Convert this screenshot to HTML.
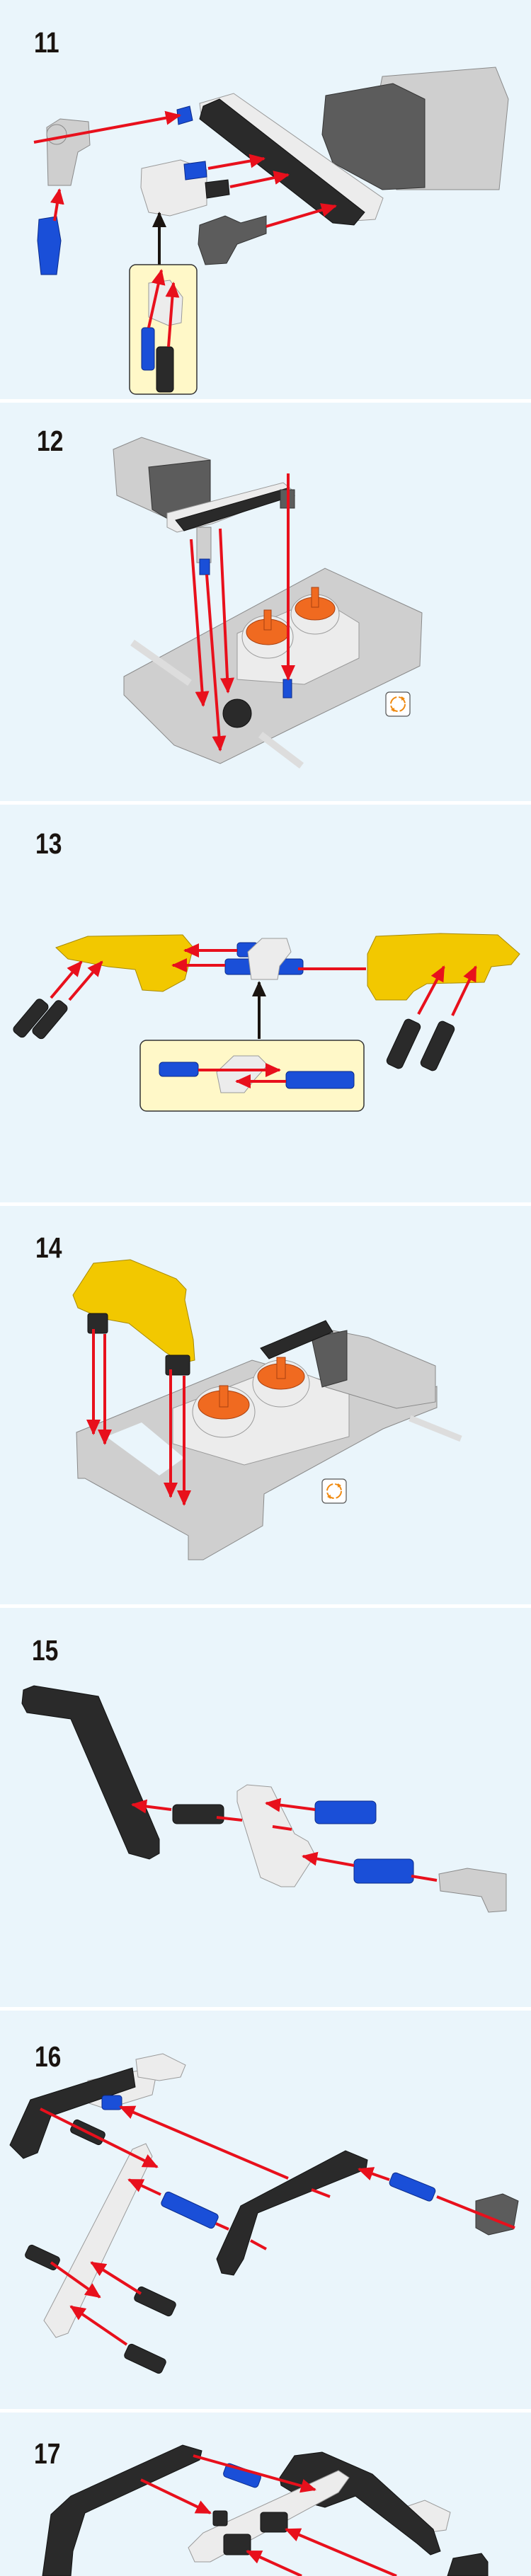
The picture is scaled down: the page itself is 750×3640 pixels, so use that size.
<!DOCTYPE html>
<html><head><meta charset="utf-8"><style>
html,body{margin:0;padding:0;background:#fff}
svg{display:block}
.n{font-family:"Liberation Sans",sans-serif;font-weight:bold;font-size:41px;fill:#1a1410}
.r{stroke:#e8101c;stroke-width:4;fill:none}
.ra{stroke:#e8101c;stroke-width:4;fill:none;marker-end:url(#ah)}
.ka{stroke:#1a1410;stroke-width:4;fill:none;marker-end:url(#kh)}
.blk{fill:#2a2a2a;stroke:#111;stroke-width:1}
.wht{fill:#ececec;stroke:#9a9a9a;stroke-width:1}
.gry{fill:#cfcfcf;stroke:#8a8a8a;stroke-width:1}
.dgr{fill:#5c5c5c;stroke:#333;stroke-width:1}
.blu{fill:#1a4fd8;stroke:#0a2a8a;stroke-width:1}
.yel{fill:#f2c800;stroke:#a88a00;stroke-width:1}
.org{fill:#f06a20;stroke:#a84010;stroke-width:1}
.box{fill:#fff8c8;stroke:#333;stroke-width:1.5}
</style></head><body>
<svg width="750" height="3640" viewBox="0 0 750 3640" xmlns="http://www.w3.org/2000/svg">
<defs>
<marker id="ah" markerUnits="userSpaceOnUse" markerWidth="22" markerHeight="20" refX="20" refY="10" orient="auto"><path d="M0,0 L22,10 L0,20 z" fill="#e8101c"/></marker>
<marker id="kh" markerUnits="userSpaceOnUse" markerWidth="22" markerHeight="20" refX="20" refY="10" orient="auto"><path d="M0,0 L22,10 L0,20 z" fill="#1a1410"/></marker>
<g id="icon"><rect x="0" y="0" width="34" height="34" rx="5" fill="#fff" stroke="#555" stroke-width="1.2"/><circle cx="17" cy="17" r="10" fill="none" stroke="#f08a10" stroke-width="2" stroke-dasharray="13 3"/><path d="M22,6 l5,3 -5,3z M12,28 l-5,-3 5,-3z" fill="#f08a10"/></g>
</defs>
<rect width="750" height="3640" fill="#eaf5fb"/>
<rect y="564" width="750" height="5" fill="#fff"/>
<rect y="1132" width="750" height="5" fill="#fff"/>
<rect y="1699" width="750" height="5" fill="#fff"/>
<rect y="2267" width="750" height="5" fill="#fff"/>
<rect y="2836" width="750" height="5" fill="#fff"/>
<rect y="3404" width="750" height="5" fill="#fff"/>

<!-- PANEL 11 -->
<text class="n" x="48" y="74" transform="translate(48 0) scale(0.82 1) translate(-48 0)">11</text>
<polygon class="gry" points="540,108 700,95 718,140 705,268 560,268 520,210"/>
<polygon class="dgr" points="460,135 555,118 600,140 600,265 540,268 470,230 455,190"/>
<polygon class="wht" points="282,146 330,132 541,280 530,310 500,312 285,170"/>
<polygon class="blk" points="287,150 310,140 515,300 500,318 470,315 282,168"/>
<polygon class="gry" points="66,180 85,168 125,172 127,205 110,215 100,262 68,262"/>
<circle cx="80" cy="190" r="14" class="gry"/>
<polygon class="blu" points="55,310 80,306 86,340 80,388 58,388 53,340"/>
<polygon class="blu" points="250,155 268,150 272,170 252,176"/>
<polygon class="wht" points="200,238 255,226 292,240 292,290 240,305 210,300 199,265"/>
<polygon class="dgr" points="282,318 318,305 340,315 376,305 376,330 335,345 320,372 290,374 280,345"/>
<polygon class="blu" points="260,232 290,228 292,250 262,254"/>
<polygon class="blk" points="290,258 322,254 324,275 292,280"/>
<line class="ra" x1="48" y1="201" x2="254" y2="163"/>
<line class="ra" x1="77" y1="312" x2="84" y2="268"/>
<line class="ra" x1="294" y1="238" x2="373" y2="224"/>
<line class="ra" x1="325" y1="264" x2="407" y2="247"/>
<line class="ra" x1="376" y1="320" x2="474" y2="291"/>
<line class="ka" x1="225" y1="374" x2="225" y2="301"/>
<rect class="box" x="183" y="374" width="95" height="183" rx="9"/>
<polygon class="wht" points="210,400 240,396 258,420 256,456 238,460 210,448"/>
<rect class="blu" x="200" y="463" width="18" height="60" rx="4"/>
<rect class="blk" x="221" y="490" width="24" height="64" rx="5"/>
<line class="ra" x1="210" y1="463" x2="228" y2="382"/>
<line class="ra" x1="238" y1="490" x2="245" y2="400"/>

<!-- PANEL 12 -->
<text class="n" x="52" y="637" transform="translate(52 0) scale(0.82 1) translate(-52 0)">12</text>
<polygon class="gry" points="175,956 459,803 596,866 593,941 416,1027 311,1079 246,1053 175,982"/>
<polygon class="wht" points="335,895 450,845 507,880 507,930 430,967 335,960"/>
<ellipse cx="378" cy="900" rx="36" ry="30" class="wht"/><ellipse cx="378" cy="893" rx="30" ry="18" class="org"/>
<ellipse cx="445" cy="868" rx="34" ry="28" class="wht"/><ellipse cx="445" cy="860" rx="28" ry="16" class="org"/>
<rect class="org" x="373" y="862" width="10" height="28"/><rect class="org" x="440" y="830" width="10" height="28"/>
<line x1="187" y1="908" x2="268" y2="965" stroke="#ddd" stroke-width="10"/>
<line x1="368" y1="1038" x2="426" y2="1082" stroke="#ddd" stroke-width="10"/>
<circle cx="335" cy="1008" r="20" class="blk"/>
<polygon class="gry" points="160,635 200,618 297,650 297,720 240,734 165,700"/>
<polygon class="dgr" points="210,660 297,650 297,725 240,735 215,720"/>
<polygon class="wht" points="236,725 400,682 416,695 300,740 250,752 236,745"/>
<polygon class="blk" points="248,735 405,690 416,700 260,750"/>
<rect class="dgr" x="396" y="692" width="20" height="26"/>
<rect class="gry" x="278" y="745" width="20" height="50"/>
<rect class="blu" x="282" y="790" width="14" height="22"/>
<rect class="blu" x="400" y="960" width="12" height="26"/>
<line class="ra" x1="270" y1="762" x2="287" y2="997"/>
<line class="ra" x1="292" y1="812" x2="311" y2="1060"/>
<line class="ra" x1="311" y1="747" x2="322" y2="978"/>
<line class="ra" x1="407" y1="669" x2="407" y2="960"/>
<use href="#icon" x="545" y="978"/>

<!-- PANEL 13 -->
<text class="n" x="50" y="1206" transform="translate(50 0) scale(0.82 1) translate(-50 0)">13</text>
<polygon class="yel" points="79,1339 124,1323 258,1321 273,1339 261,1384 230,1401 201,1399 191,1370 153,1366 96,1355"/>
<polygon class="yel" points="519,1348 531,1323 622,1319 703,1321 734,1348 722,1363 694,1366 684,1388 603,1390 584,1401 574,1413 531,1413 519,1393"/>
<g transform="rotate(-50 45 1440)"><rect class="blk" x="15" y="1428" width="60" height="20" rx="6"/></g>
<g transform="rotate(-50 72 1442)"><rect class="blk" x="42" y="1430" width="60" height="20" rx="6"/></g>
<g transform="rotate(-65 570 1475)"><rect class="blk" x="535" y="1463" width="70" height="24" rx="6"/></g>
<g transform="rotate(-65 618 1478)"><rect class="blk" x="583" y="1466" width="70" height="24" rx="6"/></g>
<rect class="blu" x="335" y="1332" width="29" height="20" rx="4"/>
<rect class="blu" x="318" y="1355" width="110" height="22" rx="4"/>
<polygon class="wht" points="350,1345 370,1326 405,1326 411,1345 395,1365 392,1384 355,1384"/>
<line class="ra" x1="335" y1="1343" x2="261" y2="1343"/>
<line class="ra" x1="318" y1="1364" x2="244" y2="1364"/>
<line class="r" x1="421" y1="1369" x2="517" y2="1369"/>
<line class="ra" x1="72" y1="1410" x2="115" y2="1359"/>
<line class="ra" x1="98" y1="1413" x2="144" y2="1359"/>
<line class="ra" x1="591" y1="1433" x2="627" y2="1366"/>
<line class="ra" x1="639" y1="1435" x2="672" y2="1366"/>
<line class="ka" x1="366" y1="1468" x2="366" y2="1388"/>
<rect class="box" x="198" y="1470" width="316" height="100" rx="9"/>
<rect class="blu" x="225" y="1501" width="55" height="20" rx="5"/>
<polygon class="wht" points="306,1515 330,1492 365,1492 378,1505 360,1525 345,1544 312,1544"/>
<rect class="blu" x="404" y="1514" width="96" height="24" rx="5"/>
<line class="ra" x1="280" y1="1512" x2="395" y2="1512"/>
<line class="ra" x1="404" y1="1528" x2="334" y2="1528"/>

<!-- PANEL 14 -->
<text class="n" x="50" y="1777" transform="translate(50 0) scale(0.82 1) translate(-50 0)">14</text>
<polygon class="gry" points="108,2024 356,1922 565,1981 617,1959 617,1989 541,2019 373,2111 371,2156 287,2204 266,2204 266,2170 120,2089 110,2089"/>
<polygon fill="#eaf5fb" points="150,2030 200,2010 260,2060 225,2085"/>
<polygon class="wht" points="244,1990 400,1930 493,1965 493,2030 345,2070 244,2040"/>
<ellipse cx="316" cy="1995" rx="44" ry="36" class="wht"/><ellipse cx="316" cy="1985" rx="36" ry="20" class="org"/>
<ellipse cx="397" cy="1955" rx="40" ry="33" class="wht"/><ellipse cx="397" cy="1945" rx="33" ry="18" class="org"/>
<rect class="org" x="310" y="1958" width="12" height="30"/><rect class="org" x="391" y="1918" width="12" height="30"/>
<polygon class="gry" points="470,1880 520,1890 615,1930 615,1981 560,1990 460,1960"/>
<polygon class="dgr" points="440,1890 490,1880 490,1950 455,1960"/>
<polygon class="blk" points="368,1905 460,1866 470,1882 380,1920"/>
<line x1="579" y1="2004" x2="651" y2="2033" stroke="#ddd" stroke-width="9"/>
<polygon class="yel" points="103,1830 132,1785 184,1780 249,1807 263,1822 261,1837 273,1893 275,1922 258,1926 234,1911 201,1885 182,1870 144,1863 110,1848"/>
<rect class="blk" x="124" y="1856" width="28" height="28" rx="3"/>
<rect class="blk" x="234" y="1915" width="34" height="28" rx="3"/>
<line class="ra" x1="132" y1="1878" x2="132" y2="2026"/>
<line class="ra" x1="148" y1="1885" x2="148" y2="2040"/>
<line class="ra" x1="241" y1="1935" x2="241" y2="2115"/>
<line class="ra" x1="260" y1="1944" x2="260" y2="2126"/>
<use href="#icon" x="455" y="2090"/>

<!-- PANEL 15 -->
<text class="n" x="45" y="2346" transform="translate(45 0) scale(0.82 1) translate(-45 0)">15</text>
<polygon class="blk" points="33,2388 48,2382 139,2397 225,2599 225,2619 211,2627 182,2619 100,2429 38,2420 31,2407"/>
<rect class="blk" x="244" y="2550" width="72" height="27" rx="6"/>
<polygon class="wht" points="335,2531 349,2522 383,2525 416,2591 435,2602 445,2621 416,2666 397,2666 368,2653 335,2546"/>
<rect class="blu" x="445" y="2545" width="86" height="32" rx="6"/>
<rect class="blu" x="500" y="2627" width="84" height="34" rx="6"/>
<polygon class="gry" points="620,2648 660,2640 715,2648 715,2700 690,2702 680,2680 622,2672"/>
<line class="ra" x1="242" y1="2557" x2="187" y2="2550"/>
<line class="r" x1="342" y1="2572" x2="306" y2="2568"/>
<line class="r" x1="412" y1="2585" x2="385" y2="2581"/>
<line class="ra" x1="445" y1="2557" x2="376" y2="2548"/>
<line class="ra" x1="500" y1="2636" x2="428" y2="2623"/>
<line class="r" x1="617" y1="2657" x2="581" y2="2651"/>

<!-- PANEL 16 -->
<text class="n" x="49" y="2920" transform="translate(49 0) scale(0.82 1) translate(-49 0)">16</text>
<polygon class="wht" points="124,2940 200,2925 220,2935 215,2960 150,2980 126,2972"/>
<polygon class="wht" points="192,2910 230,2902 262,2918 255,2935 225,2940 195,2935"/>
<polygon class="blk" points="14,3031 43,2967 187,2922 191,2949 72,2990 53,3042 33,3050"/>
<rect class="blu" x="144" y="2961" width="28" height="20" rx="4"/>
<line class="ra" x1="407" y1="3078" x2="170" y2="2977"/>
<polygon class="wht" points="62,3279 187,3037 206,3029 215,3047 96,3297 79,3303"/>
<g transform="rotate(25 124 3013)"><rect class="blk" x="100" y="3003" width="48" height="20" rx="5"/></g>
<g transform="rotate(25 60 3190)"><rect class="blk" x="36" y="3180" width="48" height="20" rx="5"/></g>
<g transform="rotate(25 219 3252)"><rect class="blk" x="190" y="3241" width="58" height="22" rx="5"/></g>
<g transform="rotate(25 205 3333)"><rect class="blk" x="176" y="3322" width="58" height="22" rx="5"/></g>
<g transform="rotate(25 268 3123)"><rect class="blu" x="227" y="3112" width="82" height="22" rx="5"/></g>
<polygon class="blk" points="306,3192 340,3117 488,3039 519,3052 517,3065 364,3127 344,3192 330,3215 313,3212"/>
<g transform="rotate(22 582 3090)"><rect class="blu" x="550" y="3080" width="65" height="20" rx="5"/></g>
<polygon class="dgr" points="672,3110 710,3100 732,3110 725,3150 690,3158 672,3148"/>
<line class="ra" x1="57" y1="2980" x2="222" y2="3062"/>
<line class="ra" x1="227" y1="3101" x2="182" y2="3080"/>
<line class="r" x1="323" y1="3150" x2="305" y2="3142"/>
<line class="r" x1="466" y1="3104" x2="440" y2="3094"/>
<line class="r" x1="376" y1="3178" x2="354" y2="3166"/>
<line class="ra" x1="550" y1="3080" x2="507" y2="3065"/>
<line class="r" x1="727" y1="3148" x2="617" y2="3104"/>
<line class="ra" x1="72" y1="3197" x2="141" y2="3246"/>
<line class="ra" x1="199" y1="3241" x2="129" y2="3197"/>
<line class="ra" x1="179" y1="3313" x2="100" y2="3259"/>

<!-- PANEL 17 -->
<text class="n" x="48" y="3481" transform="translate(48 0) scale(0.82 1) translate(-48 0)">17</text>
<polygon class="blk" points="60,3640 72,3553 100,3527 258,3455 285,3463 282,3476 120,3551 103,3605 100,3640"/>
<g transform="rotate(20 342 3498)"><rect class="blu" x="316" y="3488" width="52" height="20" rx="5"/></g>
<polygon class="wht" points="565,3545 600,3533 636,3550 630,3575 600,3579 568,3565"/>
<polygon class="blk" points="395,3501 416,3470 455,3465 526,3496 612,3574 622,3605 608,3610 589,3594 502,3527 459,3543 440,3538 397,3512"/>
<polygon class="wht" points="266,3600 287,3579 478,3491 493,3501 478,3522 297,3620 275,3620"/>
<rect class="blk" x="301" y="3548" width="20" height="21" rx="3"/>
<rect class="blk" x="368" y="3550" width="38" height="28" rx="4"/>
<rect class="blk" x="316" y="3581" width="38" height="29" rx="4"/>
<polygon class="blk" points="632,3640 640,3615 680,3608 689,3620 689,3640"/>
<line class="ra" x1="273" y1="3470" x2="445" y2="3518"/>
<line class="ra" x1="199" y1="3504" x2="297" y2="3551"/>
<line class="ra" x1="560" y1="3640" x2="404" y2="3574"/>
<line class="ra" x1="426" y1="3640" x2="349" y2="3605"/>
</svg>
</body></html>
